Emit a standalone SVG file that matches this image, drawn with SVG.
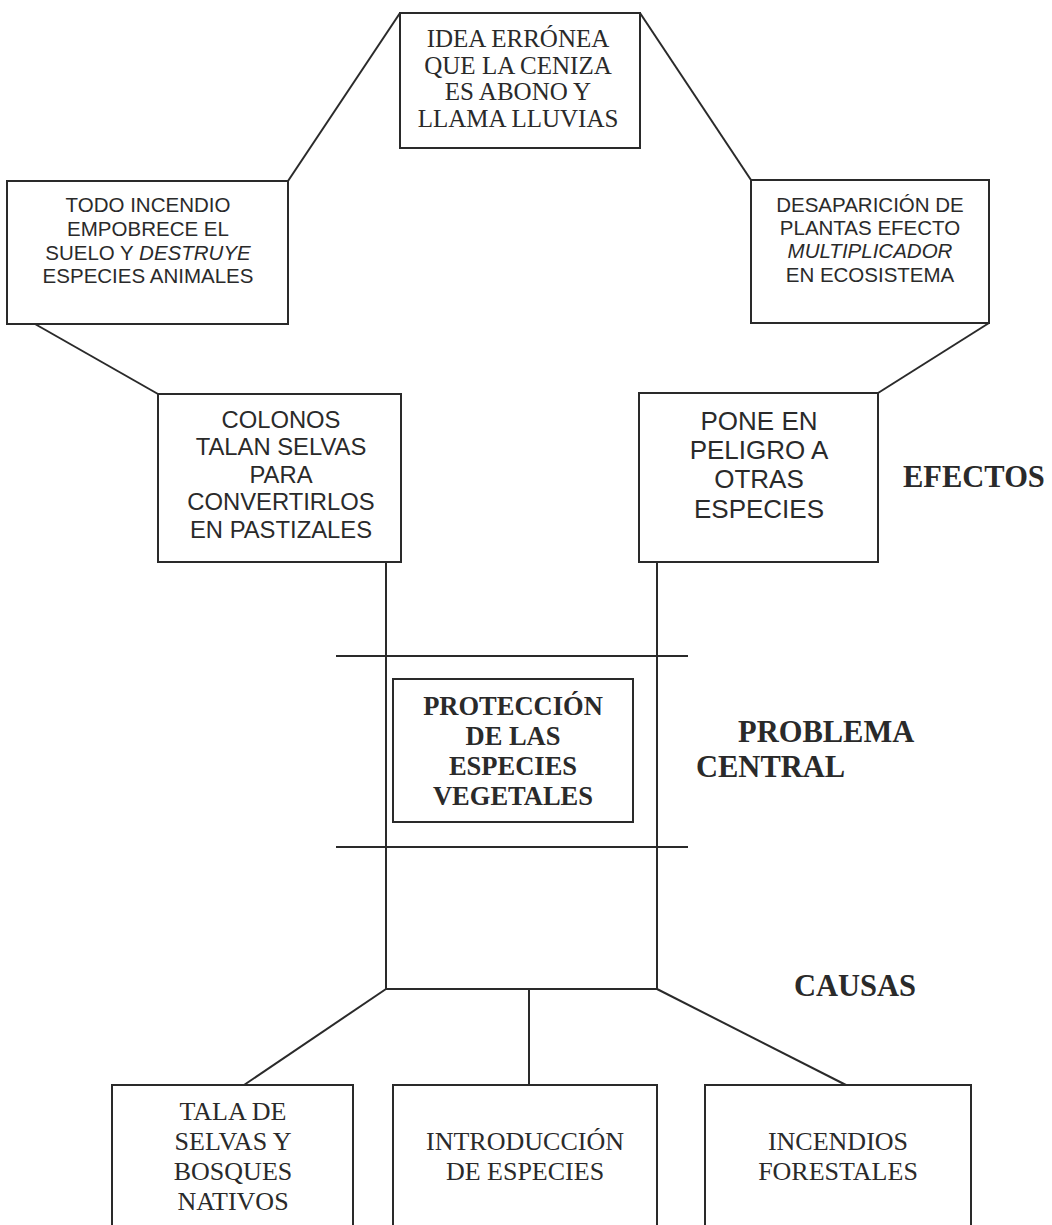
<svg xmlns="http://www.w3.org/2000/svg" width="1052" height="1225" viewBox="0 0 1052 1225">
  <style>
    .box { fill: #ffffff; stroke: #2a2a2a; stroke-width: 2; }
    .link { fill: none; stroke: #2a2a2a; stroke-width: 2; }
    .serif { font-family: "Liberation Serif", "Times New Roman", serif; fill: #2a2a2a; text-anchor: middle; }
    .sans { font-family: "Liberation Sans", Arial, sans-serif; fill: #2a2a2a; text-anchor: middle; }
    .head { font-family: "Liberation Serif", "Times New Roman", serif; font-weight: bold; fill: #2a2a2a; font-size: 30.5px; }
  </style>
  <rect width="1052" height="1225" fill="#ffffff"/>

  <!-- connectors -->
  <g id="connectors" class="link">
    <line x1="400" y1="13" x2="288" y2="181"/>
    <line x1="640" y1="13" x2="751" y2="180"/>
    <line x1="35" y1="324" x2="158" y2="394"/>
    <line x1="989" y1="323" x2="878" y2="393"/>
    <line x1="386" y1="562" x2="386" y2="989"/>
    <line x1="657" y1="562" x2="657" y2="989"/>
    <line x1="336" y1="656" x2="688" y2="656"/>
    <line x1="336" y1="847" x2="688" y2="847"/>
    <line x1="386" y1="989" x2="657" y2="989"/>
    <line x1="529" y1="989" x2="529" y2="1085"/>
    <line x1="386" y1="989" x2="244" y2="1085"/>
    <line x1="657" y1="989" x2="846" y2="1085"/>
  </g>

  <!-- effects -->
  <g id="idea-erronea">
    <rect class="box" x="400" y="13" width="240" height="135"/>
    <text class="serif" font-size="25"><tspan x="518" y="47">IDEA ERRÓNEA</tspan><tspan x="518" y="74">QUE LA CENIZA</tspan><tspan x="518" y="100">ES ABONO Y</tspan><tspan x="518" y="127">LLAMA LLUVIAS</tspan></text>
  </g>
  <g id="todo-incendio">
    <rect class="box" x="7" y="181" width="281" height="143"/>
    <text class="sans" font-size="20.5"><tspan x="148" y="212">TODO INCENDIO</tspan><tspan x="148" y="236">EMPOBRECE EL</tspan><tspan x="148" y="260">SUELO Y <tspan font-style="italic">DESTRUYE</tspan></tspan><tspan x="148" y="283">ESPECIES ANIMALES</tspan></text>
  </g>
  <g id="desaparicion">
    <rect class="box" x="751" y="180" width="238" height="143"/>
    <text class="sans" font-size="20.5"><tspan x="870" y="212">DESAPARICIÓN DE</tspan><tspan x="870" y="235">PLANTAS EFECTO</tspan><tspan x="870" y="258" font-style="italic">MULTIPLICADOR</tspan><tspan x="870" y="282">EN ECOSISTEMA</tspan></text>
  </g>
  <g id="colonos">
    <rect class="box" x="158" y="394" width="243" height="168"/>
    <text class="sans" font-size="23.8"><tspan x="281" y="428">COLONOS</tspan><tspan x="281" y="455">TALAN SELVAS</tspan><tspan x="281" y="483">PARA</tspan><tspan x="281" y="510">CONVERTIRLOS</tspan><tspan x="281" y="538">EN PASTIZALES</tspan></text>
  </g>
  <g id="pone-en-peligro">
    <rect class="box" x="639" y="393" width="239" height="169"/>
    <text class="sans" font-size="26"><tspan x="759" y="430">PONE EN</tspan><tspan x="759" y="459">PELIGRO A</tspan><tspan x="759" y="488">OTRAS</tspan><tspan x="759" y="518">ESPECIES</tspan></text>
  </g>

  <!-- central problem -->
  <g id="problema-central">
    <rect class="box" x="393" y="679" width="240" height="143"/>
    <text class="serif" font-size="26.5" font-weight="bold"><tspan x="513" y="715">PROTECCIÓN</tspan><tspan x="513" y="745">DE LAS</tspan><tspan x="513" y="775">ESPECIES</tspan><tspan x="513" y="805">VEGETALES</tspan></text>
  </g>

  <!-- causes -->
  <g id="tala">
    <rect class="box" x="112" y="1085" width="241" height="160"/>
    <text class="serif" font-size="26"><tspan x="233" y="1120">TALA DE</tspan><tspan x="233" y="1150">SELVAS Y</tspan><tspan x="233" y="1180">BOSQUES</tspan><tspan x="233" y="1210">NATIVOS</tspan></text>
  </g>
  <g id="introduccion">
    <rect class="box" x="393" y="1085" width="264" height="160"/>
    <text class="serif" font-size="26"><tspan x="525" y="1150">INTRODUCCIÓN</tspan><tspan x="525" y="1180">DE ESPECIES</tspan></text>
  </g>
  <g id="incendios">
    <rect class="box" x="705" y="1085" width="266" height="160"/>
    <text class="serif" font-size="26"><tspan x="838" y="1150">INCENDIOS</tspan><tspan x="838" y="1180">FORESTALES</tspan></text>
  </g>

  <!-- level labels -->
  <g id="labels">
    <text class="head" x="903" y="487">EFECTOS</text>
    <text class="head" x="738" y="742">PROBLEMA</text>
    <text class="head" x="696" y="777">CENTRAL</text>
    <text class="head" x="794" y="996">CAUSAS</text>
  </g>
</svg>
